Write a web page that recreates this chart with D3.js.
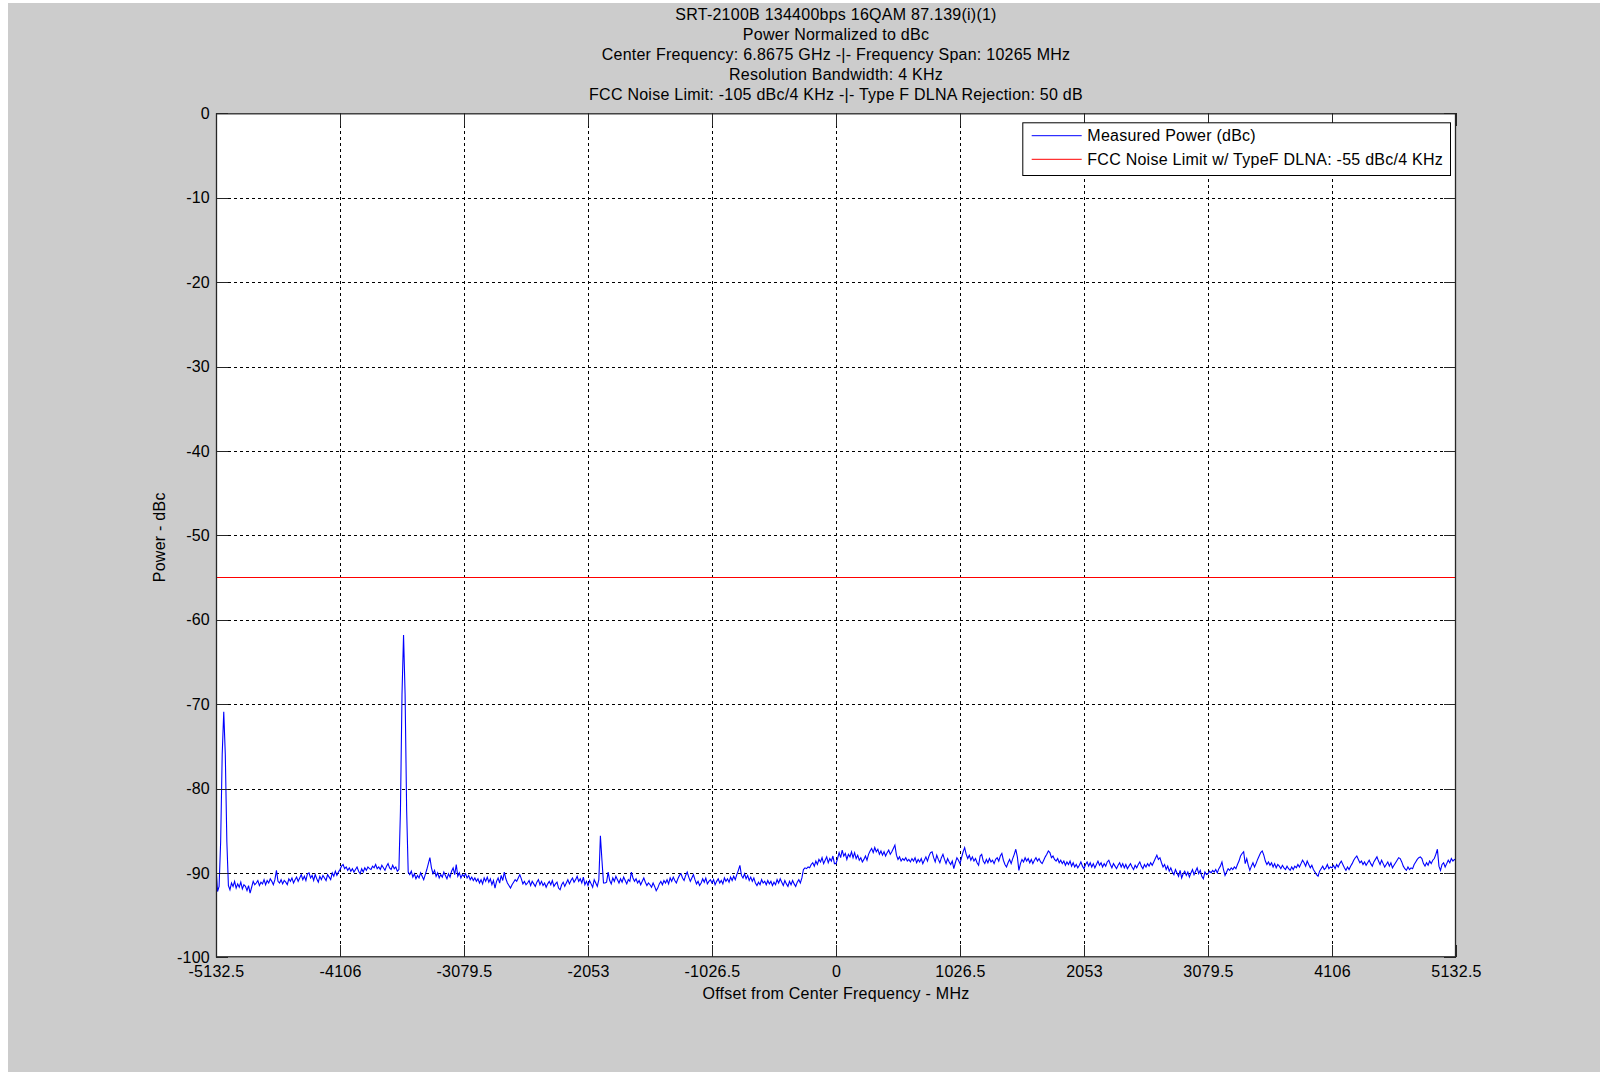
<!DOCTYPE html>
<html>
<head>
<meta charset="utf-8">
<script src="https://cdn.jsdelivr.net/npm/d3@7"></script>
<style>
  html, body { margin: 0; padding: 0; background: #ffffff; }
  svg { display: block; }
  text { font-family: "Liberation Sans", Arial, Helvetica, sans-serif; fill: #000; letter-spacing: 0.25px; }
</style>
</head>
<body>
<svg id="chart" width="1600" height="1072"></svg>
<script>
// Spectrum sweep: 801 points evenly spaced across the span
const sweepStartMHz = -5132.5;
const sweepStopMHz = 5132.5;

// Measured power per sweep point (dBc)
const powerDbc = [
  -89.3, -92.2, -91.6, -86.3, -76.0, -70.9, -76.0, -86.3, -91.5, -92.0,
  -91.2, -91.6, -91.0, -91.8, -91.3, -91.7, -91.1, -91.9, -91.4, -91.6,
  -92.1, -91.5, -92.4, -91.7, -91.0, -91.4, -91.2, -90.9, -91.5, -91.1,
  -91.3, -90.8, -91.4, -90.9, -91.2, -90.7, -91.0, -91.4, -90.8, -89.7,
  -91.0, -91.2, -90.8, -91.3, -90.9, -91.1, -91.4, -90.7, -91.0, -90.6,
  -91.2, -90.8, -90.5, -91.0, -90.6, -90.2, -90.8, -90.4, -90.9, -90.1,
  -90.0, -90.6, -90.3, -90.9, -90.2, -90.7, -91.1, -90.4, -90.8, -90.3,
  -90.6, -90.9, -90.2, -90.5, -90.8, -90.0, -90.4, -89.8, -90.3, -89.9,
  -89.6, -89.2, -89.0, -89.5, -89.3, -89.7, -89.4, -89.8, -89.5, -89.9,
  -89.6, -89.3, -89.8, -90.1, -89.5, -89.9, -89.4, -89.7, -89.3, -89.5,
  -89.6, -89.2, -89.4, -89.0, -89.5, -89.3, -89.6, -89.1, -89.4, -89.7,
  -89.2, -88.9, -89.4, -89.6, -89.1, -89.5, -89.3, -89.8, -89.6, -82.6,
  -68.9, -61.8, -68.9, -82.6, -89.9, -90.2, -89.8, -90.5, -90.1, -90.7,
  -90.3, -90.6, -90.0, -90.4, -90.8, -90.2, -89.6, -88.9, -88.2, -89.4,
  -90.1, -89.7, -90.4, -90.0, -90.6, -90.2, -90.5, -89.9, -90.3, -90.7,
  -90.1, -90.5, -89.8, -89.4, -90.2, -89.0, -90.4, -90.0, -90.6, -90.2,
  -90.4, -90.1, -90.6, -90.3, -90.8, -90.5, -90.9, -90.6, -91.0, -90.7,
  -91.2, -90.8, -91.3, -90.6, -91.0, -90.5, -91.1, -90.7, -91.4, -90.9,
  -91.8, -91.0, -90.6, -91.2, -90.3, -90.9, -89.9, -90.7, -91.2, -91.5,
  -91.8, -91.4, -91.1, -90.8, -91.0, -90.6, -90.2, -90.7, -91.3, -91.0,
  -91.4, -91.2, -90.9, -91.5, -91.0, -91.3, -91.6, -91.1, -90.8, -91.4,
  -91.0, -91.5, -91.2, -91.7, -91.3, -91.0, -91.4, -90.9, -91.6, -91.3,
  -91.1, -91.8, -92.0, -91.4, -91.1, -91.6, -91.2, -90.8, -91.3, -90.9,
  -90.6, -91.1, -90.8, -90.4, -91.0, -90.7, -91.2, -90.5, -91.4, -91.0,
  -91.5, -90.9, -91.3, -91.7, -90.8, -91.2, -91.6, -90.8, -85.6, -88.5,
  -91.2, -91.2, -91.1, -89.9, -90.9, -91.3, -90.6, -91.0, -90.4, -90.8,
  -91.2, -90.7, -91.1, -90.5, -90.9, -91.3, -90.8, -91.0, -89.9, -90.6,
  -91.0, -90.7, -91.2, -90.9, -91.4, -91.0, -90.6, -91.1, -91.5, -91.2,
  -91.4, -91.7, -91.2, -91.6, -92.1, -91.8, -91.3, -91.0, -91.4, -90.9,
  -91.2, -90.8, -91.3, -90.6, -91.0, -90.5, -90.9, -91.2, -90.7, -90.3,
  -90.1, -90.6, -90.9, -90.3, -89.9, -90.5, -91.0, -90.6, -90.2, -90.8,
  -91.3, -91.0, -91.5, -91.2, -90.7, -91.1, -90.6, -91.3, -91.0, -90.8,
  -91.2, -90.8, -91.4, -91.0, -90.7, -91.2, -90.9, -91.3, -90.6, -91.0,
  -90.7, -91.1, -90.5, -90.9, -90.4, -90.8, -90.2, -89.7, -89.1, -90.3,
  -90.6, -90.1, -90.7, -90.3, -90.9, -90.5, -91.0, -90.6, -91.2, -91.5,
  -91.1, -91.4, -90.8, -91.2, -91.0, -91.4, -90.9, -91.3, -91.0, -91.5,
  -91.1, -91.4, -90.8, -91.2, -90.7, -91.1, -91.5, -90.9, -91.3, -91.6,
  -91.0, -91.4, -90.9, -91.3, -91.6, -91.1, -90.8, -91.2, -90.6, -89.6,
  -89.4, -89.5, -89.3, -89.4, -89.0, -88.8, -89.2, -88.6, -89.0, -88.4,
  -88.7, -88.2, -88.9, -88.5, -88.1, -88.8, -88.3, -88.6, -88.0, -88.9,
  -88.9, -88.3, -87.6, -88.2, -87.3, -88.0, -87.7, -88.4, -87.8, -88.1,
  -87.5, -88.2, -87.6, -88.3, -87.9, -88.5, -88.2, -88.7, -88.4, -88.0,
  -88.5, -87.8, -87.4, -87.1, -87.6, -87.0, -87.5, -87.2, -87.8, -87.4,
  -87.9, -87.5, -88.0, -87.6, -87.3, -87.8, -87.5, -87.1, -86.7, -87.9,
  -88.4, -88.1, -88.6, -88.3, -88.5, -88.2, -88.6, -88.4, -88.7, -88.3,
  -88.6, -88.2, -88.8, -88.4, -88.7, -88.3, -88.9, -88.5, -88.1, -88.6,
  -88.0, -87.6, -87.5, -88.2, -88.7, -87.9, -88.4, -88.8, -88.2, -87.8,
  -88.4, -88.9, -88.3, -88.7, -89.0, -88.6, -89.5, -88.8, -88.2, -88.5,
  -88.9, -88.2, -87.5, -87.0, -87.8, -88.3, -87.9, -88.5, -88.1, -88.6,
  -88.3, -88.8, -89.1, -88.0, -87.8, -88.6, -88.9, -88.4, -88.8, -88.3,
  -88.7, -88.5, -88.9, -88.4, -88.2, -88.6, -88.0, -87.7, -88.5, -89.0,
  -89.3, -88.8, -88.4, -88.9, -88.3, -87.8, -87.2, -88.1, -89.7, -88.9,
  -88.4, -88.7, -88.2, -88.6, -88.3, -88.8, -88.4, -88.9, -88.5, -88.2,
  -88.6, -88.3, -88.7, -88.9, -88.5, -88.1, -87.8, -87.4, -87.6, -88.2,
  -88.0, -88.4, -88.6, -88.3, -88.8, -88.5, -88.9, -88.6, -89.1, -88.7,
  -89.0, -88.6, -89.2, -88.8, -89.3, -89.0, -89.4, -89.1, -88.7, -89.2,
  -89.5, -89.0, -88.7, -89.2, -88.8, -89.3, -88.9, -89.4, -89.0, -88.6,
  -89.1, -88.8, -89.3, -88.9, -89.2, -88.7, -88.5, -89.0, -89.4, -88.9,
  -89.2, -89.5, -89.1, -88.8, -89.3, -88.9, -89.4, -89.0, -89.5, -89.2,
  -88.9, -89.3, -89.6, -89.1, -89.4, -89.0, -88.7, -89.2, -89.5, -89.0,
  -89.3, -88.9, -89.2, -88.8, -89.1, -88.7, -88.3, -87.9, -88.4, -88.2,
  -88.8, -89.3, -89.0, -89.6, -89.2, -89.8, -89.4, -89.9, -90.2, -89.6,
  -90.0, -90.4, -89.7, -90.6, -90.1, -89.8, -90.3, -89.9, -90.5, -90.0,
  -89.6, -90.2, -89.8, -89.4, -90.1, -89.7, -90.4, -90.7, -89.9, -90.2,
  -90.1, -89.8, -90.0, -89.7, -89.9, -89.6, -90.0, -89.5, -89.2, -88.7,
  -89.6, -90.3, -89.9, -89.5, -89.7, -89.4, -89.6, -89.3, -89.5, -89.0,
  -88.6, -88.0, -87.7, -87.5, -88.9, -88.3, -89.1, -89.7, -89.2, -88.8,
  -89.3, -88.9, -88.4, -88.0, -87.6, -87.4, -87.9, -88.6, -89.0, -88.7,
  -89.1, -88.8, -89.3, -88.9, -89.4, -89.0, -89.2, -89.5, -89.1, -89.4,
  -89.6, -89.2, -89.5, -89.7, -89.3, -89.6, -89.2, -89.4, -89.0, -89.3,
  -88.9, -88.5, -88.8, -89.2, -88.6, -89.0, -89.4, -89.1, -89.6, -89.9,
  -90.2, -90.4, -89.8, -89.5, -89.2, -89.6, -89.4, -89.0, -89.5, -89.3,
  -89.4, -89.1, -89.5, -89.0, -89.3, -88.9, -88.6, -89.0, -89.4, -89.7,
  -89.3, -89.6, -89.2, -88.9, -88.5, -88.2, -88.0, -88.4, -88.8, -88.6,
  -89.0, -88.7, -89.1, -88.8, -88.5, -88.9, -89.2, -88.7, -88.4, -88.1,
  -88.6, -89.0, -88.5, -88.9, -89.3, -89.0, -88.7, -89.2, -88.8, -89.4,
  -89.1, -88.8, -88.5, -88.2, -88.3, -88.7, -89.2, -89.5, -89.7, -89.3,
  -89.6, -89.4, -89.5, -89.0, -88.7, -88.4, -88.2, -88.1, -88.3, -88.9,
  -89.2, -88.8, -89.1, -88.6, -88.9, -88.5, -88.3, -87.8, -87.2, -89.2,
  -89.7, -89.0, -88.8, -89.3, -88.9, -88.5, -88.8, -88.3, -88.6, -88.4,
  -88.5
];

// FCC limit including Type F DLNA rejection (dBc/4 KHz)
const noiseLimitDbc = [-55];

// Axis ticks
const xTicks = [-5132.5, -4106, -3079.5, -2053, -1026.5, 0, 1026.5, 2053, 3079.5, 4106, 5132.5];
const xTickLabels = ["-5132.5", "-4106", "-3079.5", "-2053", "-1026.5", "0", "1026.5", "2053", "3079.5", "4106", "5132.5"];
const yTicks = [0, -10, -20, -30, -40, -50, -60, -70, -80, -90, -100];
const yTickLabels = ["0", "-10", "-20", "-30", "-40", "-50", "-60", "-70", "-80", "-90", "-100"];

const titleLines = [
  "SRT-2100B 134400bps 16QAM 87.139(i)(1)",
  "Power Normalized to dBc",
  "Center Frequency: 6.8675 GHz -|- Frequency Span: 10265 MHz",
  "Resolution Bandwidth: 4 KHz",
  "FCC Noise Limit: -105 dBc/4 KHz -|- Type F DLNA Rejection: 50 dB"
];
const legendLabels = ["Measured Power (dBc)", "FCC Noise Limit w/ TypeF DLNA: -55 dBc/4 KHz"];
const seriesColors = ["#0000ff", "#ff0000"];

// ---- layout ----
const plot = { left: 216, top: 113.3, right: 1456, bottom: 957.3 };
const tickLen = 12.4;
const fontSize = 16;

const svg = d3.select("#chart");

// figure background
svg.append("rect")
  .attr("x", 8).attr("y", 3)
  .attr("width", 1592).attr("height", 1069)
  .attr("fill", "#cccccc");

const x = d3.scaleLinear().domain([sweepStartMHz, sweepStopMHz]).range([plot.left, plot.right]);
const y = d3.scaleLinear().domain([-100, 0]).range([plot.bottom, plot.top]);

// axes background
svg.append("rect")
  .attr("x", plot.left).attr("y", plot.top)
  .attr("width", plot.right - plot.left).attr("height", plot.bottom - plot.top)
  .attr("fill", "#ffffff");

// dotted grid
const grid = svg.append("g").attr("stroke", "#000").attr("stroke-width", 1)
  .attr("stroke-dasharray", "3,3").attr("shape-rendering", "crispEdges");
grid.selectAll("line.gx").data(xTicks.slice(1, -1)).join("line")
  .attr("class", "gx")
  .attr("x1", d => Math.round(x(d)) + 0.5).attr("x2", d => Math.round(x(d)) + 0.5)
  .attr("y1", plot.top).attr("y2", plot.bottom);
grid.selectAll("line.gy").data(yTicks.slice(1, -1)).join("line")
  .attr("class", "gy")
  .attr("x1", plot.left).attr("x2", plot.right)
  .attr("y1", d => Math.round(y(d)) + 0.5).attr("y2", d => Math.round(y(d)) + 0.5);

// data
const clip = svg.append("defs").append("clipPath").attr("id", "plotClip");
clip.append("rect")
  .attr("x", plot.left).attr("y", plot.top)
  .attr("width", plot.right - plot.left).attr("height", plot.bottom - plot.top);

const stepMHz = (sweepStopMHz - sweepStartMHz) / (powerDbc.length - 1);
const trace = powerDbc.map((v, i) => [sweepStartMHz + i * stepMHz, v]);

const lineGen = d3.line().x(d => x(d[0])).y(d => y(d[1]));

const dataG = svg.append("g").attr("clip-path", "url(#plotClip)");
dataG.append("path")
  .datum(trace)
  .attr("fill", "none")
  .attr("stroke", seriesColors[0])
  .attr("stroke-width", 1.1)
  .attr("stroke-linejoin", "miter")
  .attr("d", lineGen);

dataG.selectAll("line.limit").data(noiseLimitDbc).join("line")
  .attr("class", "limit")
  .attr("x1", x(sweepStartMHz)).attr("x2", x(sweepStopMHz))
  .attr("y1", d => y(d)).attr("y2", d => y(d))
  .attr("stroke", seriesColors[1]).attr("stroke-width", 1);

// axes with inward ticks on all four sides
const axisColor = "#262626";
function styleAxis(g) {
  g.select(".domain").remove();
  g.selectAll(".tick line").attr("stroke", axisColor).attr("shape-rendering", "crispEdges");
  g.selectAll(".tick text").attr("font-size", fontSize).attr("fill", "#000")
    .attr("font-family", "'Liberation Sans', Arial, Helvetica, sans-serif");
}

svg.append("g")
  .attr("transform", `translate(0,${plot.bottom})`)
  .call(d3.axisBottom(x).tickValues(xTicks).tickFormat((d, i) => xTickLabels[i])
    .tickSizeInner(-tickLen).tickSizeOuter(0).tickPadding(8))
  .call(styleAxis);

svg.append("g")
  .attr("transform", `translate(0,${plot.top})`)
  .call(d3.axisTop(x).tickValues(xTicks).tickFormat("")
    .tickSizeInner(-tickLen).tickSizeOuter(0))
  .call(styleAxis);

svg.append("g")
  .attr("transform", `translate(${plot.left},0)`)
  .call(d3.axisLeft(y).tickValues(yTicks).tickFormat((d, i) => yTickLabels[i])
    .tickSizeInner(-tickLen).tickSizeOuter(0).tickPadding(6))
  .call(styleAxis);

svg.append("g")
  .attr("transform", `translate(${plot.right},0)`)
  .call(d3.axisRight(y).tickValues(yTicks).tickFormat("")
    .tickSizeInner(-tickLen).tickSizeOuter(0))
  .call(styleAxis);

// axes box
svg.append("rect")
  .attr("x", plot.left + 0.5).attr("y", plot.top + 0.5)
  .attr("width", plot.right - plot.left - 1).attr("height", plot.bottom - plot.top - 1)
  .attr("fill", "none").attr("stroke", axisColor).attr("stroke-width", 1.3);

// titles and axis labels
const cx = (plot.left + plot.right) / 2;
svg.append("g").selectAll("text").data(titleLines).join("text")
  .attr("x", cx)
  .attr("y", (d, i) => 20.2 + i * 19.9)
  .attr("text-anchor", "middle")
  .attr("font-size", fontSize)
  .text(d => d);

svg.append("text")
  .attr("x", cx).attr("y", 999)
  .attr("text-anchor", "middle")
  .attr("font-size", fontSize)
  .text("Offset from Center Frequency - MHz");

svg.append("text")
  .attr("transform", `translate(165,${(plot.top + plot.bottom) / 2 + 2}) rotate(-90)`)
  .attr("text-anchor", "middle")
  .attr("font-size", fontSize)
  .text("Power - dBc");

// legend
const leg = { x: 1022.3, y: 122.3, w: 427.7, h: 52.7 };
const legG = svg.append("g");
legG.append("rect")
  .attr("x", leg.x + 0.5).attr("y", leg.y + 0.5)
  .attr("width", leg.w).attr("height", leg.h)
  .attr("fill", "#ffffff").attr("stroke", "#000").attr("stroke-width", 1);
const rowY = [135.7, 159.3];
legG.selectAll("line").data(legendLabels).join("line")
  .attr("x1", 1031.7).attr("x2", 1081.7)
  .attr("y1", (d, i) => rowY[i]).attr("y2", (d, i) => rowY[i])
  .attr("stroke", (d, i) => seriesColors[i]).attr("stroke-width", 1);
legG.selectAll("text").data(legendLabels).join("text")
  .attr("x", 1087.3)
  .attr("y", (d, i) => rowY[i] + 5.7)
  .attr("font-size", fontSize)
  .text(d => d);
</script>
</body>
</html>
